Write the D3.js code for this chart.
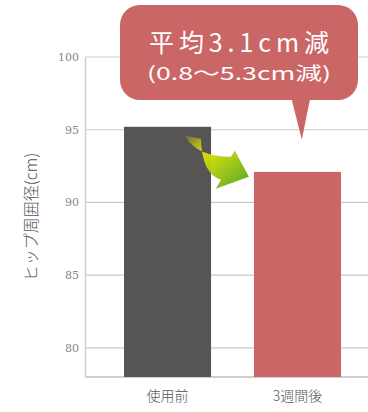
<!DOCTYPE html>
<html>
<head>
<meta charset="utf-8">
<script src="https://cdn.jsdelivr.net/npm/d3@7"></script>
<style>
  html, body { margin: 0; padding: 0; background: #fff; }
</style>
</head>
<body>
<div id="chart"></div>
<script>
const categories = ['使用前', '3週間後'];
const values = [95.2, 92.1];
const yTicks = [80, 85, 90, 95, 100];
const yLabel = 'ヒップ周囲径(cm)';
const calloutMain = '平均3.1cm減';
const calloutSub = '(0.8～5.3cm減)';

const width = 368, height = 412;
const margin = { top: 57, right: 0, bottom: 35, left: 85 };
const plotBottom = height - margin.bottom;

const svg = d3.select('#chart')
  .append('svg')
  .attr('width', width)
  .attr('height', height);

const x = d3.scaleBand()
  .domain(categories)
  .range([margin.left, 380])
  .paddingInner(0.33)
  .paddingOuter(0.3);

const y = d3.scaleLinear()
  .domain([78, 100])
  .range([plotBottom, margin.top]);

// gridlines
svg.append('g')
  .selectAll('line')
  .data(yTicks)
  .enter()
  .append('line')
  .attr('x1', margin.left)
  .attr('x2', width)
  .attr('y1', d => y(d))
  .attr('y2', d => y(d))
  .attr('stroke', '#c9c9c9')
  .attr('stroke-width', 1.2);

// axis
const yAxis = svg.append('g')
  .attr('transform', `translate(${margin.left},0)`)
  .call(d3.axisLeft(y).tickValues(yTicks).tickSize(0).tickPadding(6));
yAxis.attr('font-family', '"DejaVu Serif", "Liberation Serif", serif');
yAxis.select('.domain').attr('stroke', '#d0d0d0').attr('stroke-width', 1.5);
yAxis.selectAll('text')
  .attr('fill', '#858585')
  .attr('font-size', 11);

svg.append('line')
  .attr('x1', margin.left)
  .attr('x2', width)
  .attr('y1', plotBottom)
  .attr('y2', plotBottom)
  .attr('stroke', '#cfcfcf')
  .attr('stroke-width', 2);

// bars
const colors = ['#575553', '#cb6666'];
categories.forEach((c, i) => {
  svg.append('rect')
    .attr('x', x(c))
    .attr('y', y(values[i]))
    .attr('width', x.bandwidth())
    .attr('height', plotBottom - y(values[i]))
    .attr('fill', colors[i]);
});

// x labels
categories.forEach(c => {
  svg.append('text')
    .attr('x', x(c) + x.bandwidth() / 2)
    .attr('y', plotBottom + 24)
    .attr('text-anchor', 'middle')
    .attr('fill', '#555')
    .style('font-family', '"Noto Sans CJK JP", sans-serif')
    .style('font-weight', 300)
    .style('font-size', '14px')
    .text(c);
});

// y label
svg.append('text')
  .attr('transform', `translate(37,${(margin.top + plotBottom) / 2}) rotate(-90)`)
  .attr('text-anchor', 'middle')
  .attr('fill', '#555')
  .style('font-family', '"Noto Sans CJK JP", sans-serif')
  .style('font-weight', 300)
  .style('font-size', '16px')
  .text(yLabel);

// arrow between bars
const defs = svg.append('defs');
const grad = defs.append('linearGradient')
  .attr('id', 'arrowGrad')
  .attr('x1', '0%').attr('y1', '0%')
  .attr('x2', '100%').attr('y2', '100%');
grad.append('stop').attr('offset', '0%').attr('stop-color', '#e6e400').attr('stop-opacity', 0.15);
grad.append('stop').attr('offset', '30%').attr('stop-color', '#e2e200').attr('stop-opacity', 0.95);
grad.append('stop').attr('offset', '100%').attr('stop-color', '#4fa52a');

const ax = x(categories[0]) + x.bandwidth() * 0.78;
const ay = y(values[0]) + 10;
const arrow = [
  [ax - 7, ay - 1], [ax + 5, ay + 20, ax + 39, ay + 20], [ax + 43, ay + 14],
  [ax + 57, ay + 40], [ax + 24, ay + 52], [ax + 29, ay + 43],
  [ax + 10, ay + 37, ax + 9, ay + 2]
];
const arrowPath = `M${arrow[0]} Q${arrow[1]} L${arrow[2]} L${arrow[3]} L${arrow[4]} L${arrow[5]} Q${arrow[6]} Z`;
svg.append('path')
  .attr('d', arrowPath)
  .attr('fill', 'url(#arrowGrad)');

// callout
const cx0 = 120, cx1 = 358, cy0 = 5, cy1 = 100, r = 20;
const tipX = x(categories[1]) + x.bandwidth() * 0.55;
const tipY = y(values[0]) + 13;
const callout = d3.path();
callout.moveTo(cx0 + r, cy0);
callout.lineTo(cx1 - r, cy0);
callout.arcTo(cx1, cy0, cx1, cy0 + r, r);
callout.lineTo(cx1, cy1 - r);
callout.arcTo(cx1, cy1, cx1 - r, cy1, r);
callout.lineTo(tipX + 8, cy1);
callout.lineTo(tipX, tipY);
callout.lineTo(tipX - 10, cy1);
callout.lineTo(cx0 + r, cy1);
callout.arcTo(cx0, cy1, cx0, cy1 - r, r);
callout.lineTo(cx0, cy0 + r);
callout.arcTo(cx0, cy0, cx0 + r, cy0, r);
callout.closePath();
svg.append('path')
  .attr('d', callout.toString())
  .attr('fill', '#cb6666');

svg.append('text')
  .attr('x', 149)
  .attr('y', 52)
  .attr('textLength', 180)
  .attr('lengthAdjust', 'spacing')
  .attr('fill', '#fff')
  .style('font-family', '"Noto Sans CJK JP", sans-serif')
  .style('font-weight', 400)
  .style('font-size', '25px')
  .text(calloutMain);

svg.append('text')
  .attr('x', 147)
  .attr('y', 80)
  .attr('textLength', 184)
  .attr('lengthAdjust', 'spacingAndGlyphs')
  .attr('fill', '#fff')
  .style('font-family', '"Noto Sans CJK JP", sans-serif')
  .style('font-weight', 400)
  .style('font-size', '18px')
  .text(calloutSub);
</script>
</body>
</html>
